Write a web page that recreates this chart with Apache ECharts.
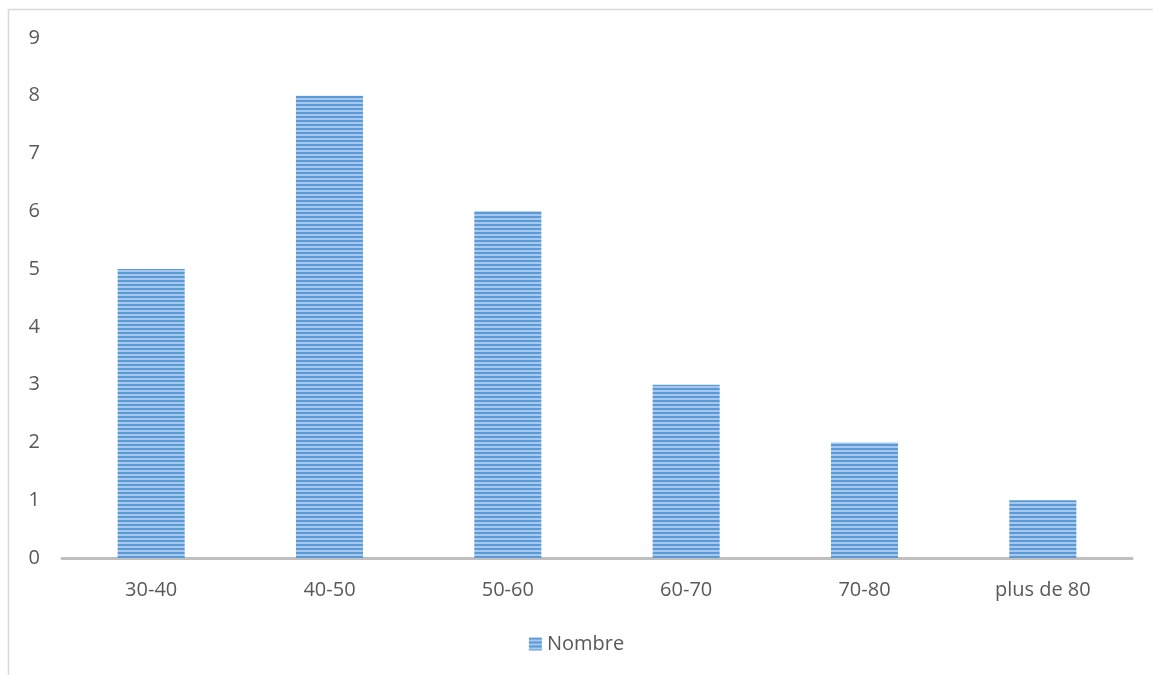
<!DOCTYPE html>
<html>
<head>
<meta charset="utf-8">
<script src="https://cdn.jsdelivr.net/npm/echarts@6/dist/echarts.min.js"></script>
<style>
  html, body { margin: 0; padding: 0; background: #fff; }
  #chart { width: 1153px; height: 675px; }
</style>
</head>
<body>
<div id="chart"></div>
<script>
// Age brackets and head count per bracket
const categories = ['30-40', '40-50', '50-60', '60-70', '70-80', 'plus de 80'];
const nombre = [5, 8, 6, 3, 2, 1];
const seriesName = 'Nombre';

// Horizontal striped fill for the bars
function stripePattern() {
  const c = document.createElement('canvas');
  c.width = 8; c.height = 4;
  const ctx = c.getContext('2d');
  ctx.fillStyle = '#a7c8ec';
  ctx.fillRect(0, 0, 8, 4);
  ctx.fillStyle = '#5a9ad6';
  ctx.fillRect(0, 0, 8, 2);
  return { image: c, repeat: 'repeat' };
}
const stripes = stripePattern();

const chart = echarts.init(document.getElementById('chart'), null, { renderer: 'canvas' });
const font = '"Open Sans", sans-serif';

chart.setOption({
  animation: false,
  backgroundColor: '#fff',
  textStyle: { fontFamily: font },
  graphic: [
    { type: 'line', shape: { x1: 8.5, y1: 9, x2: 8.5, y2: 675 }, style: { stroke: '#d9d9d9', lineWidth: 1.5 } },
    { type: 'line', shape: { x1: 8, y1: 9.5, x2: 1153, y2: 9.5 }, style: { stroke: '#d9d9d9', lineWidth: 1.5 } }
  ],
  grid: { left: 62, right: 21, top: 38, bottom: 117, containLabel: false },
  legend: {
    data: [seriesName],
    icon: 'rect',
    bottom: 16,
    left: 'center',
    itemWidth: 13,
    itemHeight: 13,
    itemGap: 6,
    textStyle: { color: '#595959', fontSize: 20, fontFamily: font }
  },
  xAxis: {
    type: 'category',
    data: categories,
    axisLine: { lineStyle: { color: '#bfbfbf', width: 3 } },
    axisTick: { show: false },
    axisLabel: { color: '#595959', fontSize: 20, margin: 22, fontFamily: font }
  },
  yAxis: {
    type: 'value',
    min: 0, max: 9, interval: 1,
    axisLine: { show: false },
    axisTick: { show: false },
    splitLine: { show: false },
    axisLabel: { color: '#595959', fontSize: 20, margin: 22, fontFamily: font }
  },
  series: [{
    name: seriesName,
    type: 'bar',
    data: nombre,
    barWidth: '37.6%',
    itemStyle: { color: stripes }
  }]
});
</script>
</body>
</html>
